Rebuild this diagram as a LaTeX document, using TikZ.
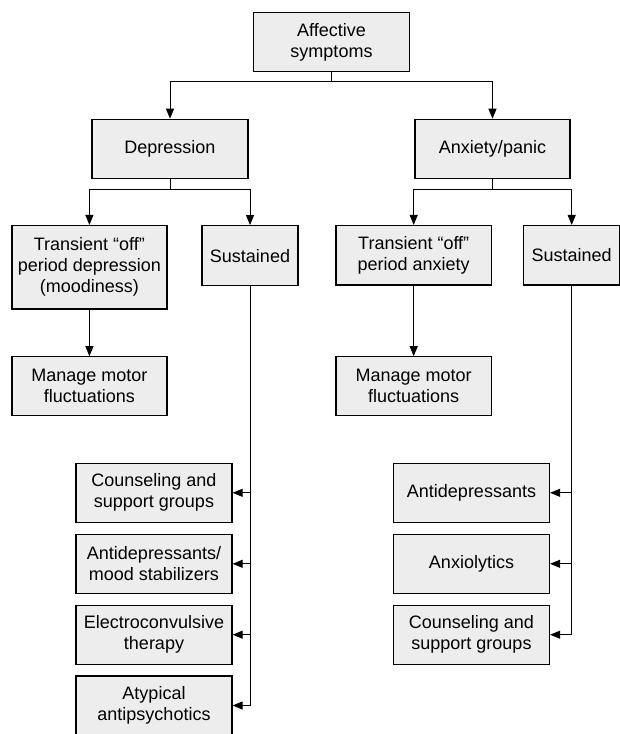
\documentclass[tikz,border=0pt]{standalone}
\usepackage{fontspec}
\setmainfont{Liberation Sans}
\usetikzlibrary{arrows.meta}
\definecolor{boxfill}{RGB}{237,237,237}
\tikzset{
  box/.style={draw=black, line width=1.2pt, fill=boxfill, align=center, inner sep=0pt,
    font=\fontsize{18}{21}\selectfont},
  conn/.style={draw=black, line width=1pt},
  arr/.style={conn, -{Triangle[length=10pt,width=8pt]}}
}
\begin{document}
\begin{tikzpicture}[x=1pt,y=-1pt]
\useasboundingbox (0,0) rectangle (619,734);
% top levels
\node[box, minimum width=156, minimum height=59] (aff) at (331.5,42.2) {Affective\\symptoms};
\node[box, minimum width=156, minimum height=59.4] (dep) at (170,149) {Depression};
\node[box, minimum width=155, minimum height=59.4] (anx) at (492.5,149) {Anxiety/panic};
% third level
\node[box, minimum width=155, minimum height=83.5] (tdep) at (89.4,267.3) {Transient “off”\\period depression\\(moodiness)};
\node[box, minimum width=96, minimum height=60] (sdep) at (250,255.6) {Sustained};
\node[box, minimum width=155.5, minimum height=59.5] (tanx) at (413.7,255.3) {Transient “off”\\period anxiety};
\node[box, minimum width=96.7, minimum height=59.5] (sanx) at (571.7,255.3) {Sustained};
% manage motor
\node[box, minimum width=155, minimum height=59] (mdep) at (89.4,386.3) {Manage motor\\fluctuations};
\node[box, minimum width=155.5, minimum height=59] (manx) at (413.7,386.3) {Manage motor\\fluctuations};
% left treatments
\node[box, minimum width=156, minimum height=59] (l1) at (154,492.8) {Counseling and\\support groups};
\node[box, minimum width=156, minimum height=59] (l2) at (154,563.8) {Antidepressants/\\mood stabilizers};
\node[box, minimum width=156, minimum height=59] (l3) at (154,634.7) {Electroconvulsive\\therapy};
\node[box, minimum width=156, minimum height=59] (l4) at (154,705.5) {Atypical\\antipsychotics};
% right treatments
\node[box, minimum width=156, minimum height=59] (r1) at (471.5,492.8) {Antidepressants};
\node[box, minimum width=156, minimum height=59] (r2) at (471.5,563.8) {Anxiolytics};
\node[box, minimum width=156, minimum height=59] (r3) at (471.5,634.7) {Counseling and\\support groups};
% junctions
\coordinate (j0) at (331.5,81.7);
\coordinate (j1) at (170,189);
\coordinate (j2) at (492.5,189);
% connectors
\draw[conn] (aff.south) -- (j0);
\draw[arr] (j0) -| (dep.north);
\draw[arr] (j0) -| (anx.north);
\draw[conn] (dep.south) -- (j1);
\draw[arr] (j1) -| (tdep.north);
\draw[arr] (j1) -| (sdep.north);
\draw[conn] (anx.south) -- (j2);
\draw[arr] (j2) -| (tanx.north);
\draw[arr] (j2) -| (sanx.north);
\draw[arr] (tdep.south) -- (mdep.north);
\draw[arr] (tanx.south) -- (manx.north);
% sustained depression branches
\draw[arr] (sdep.south) |- (l4.east);
\draw[arr] (sdep.south |- l1.east) -- (l1.east);
\draw[arr] (sdep.south |- l2.east) -- (l2.east);
\draw[arr] (sdep.south |- l3.east) -- (l3.east);
% sustained anxiety branches
\draw[arr] (sanx.south) |- (r3.east);
\draw[arr] (sanx.south |- r1.east) -- (r1.east);
\draw[arr] (sanx.south |- r2.east) -- (r2.east);
\end{tikzpicture}
\end{document}
